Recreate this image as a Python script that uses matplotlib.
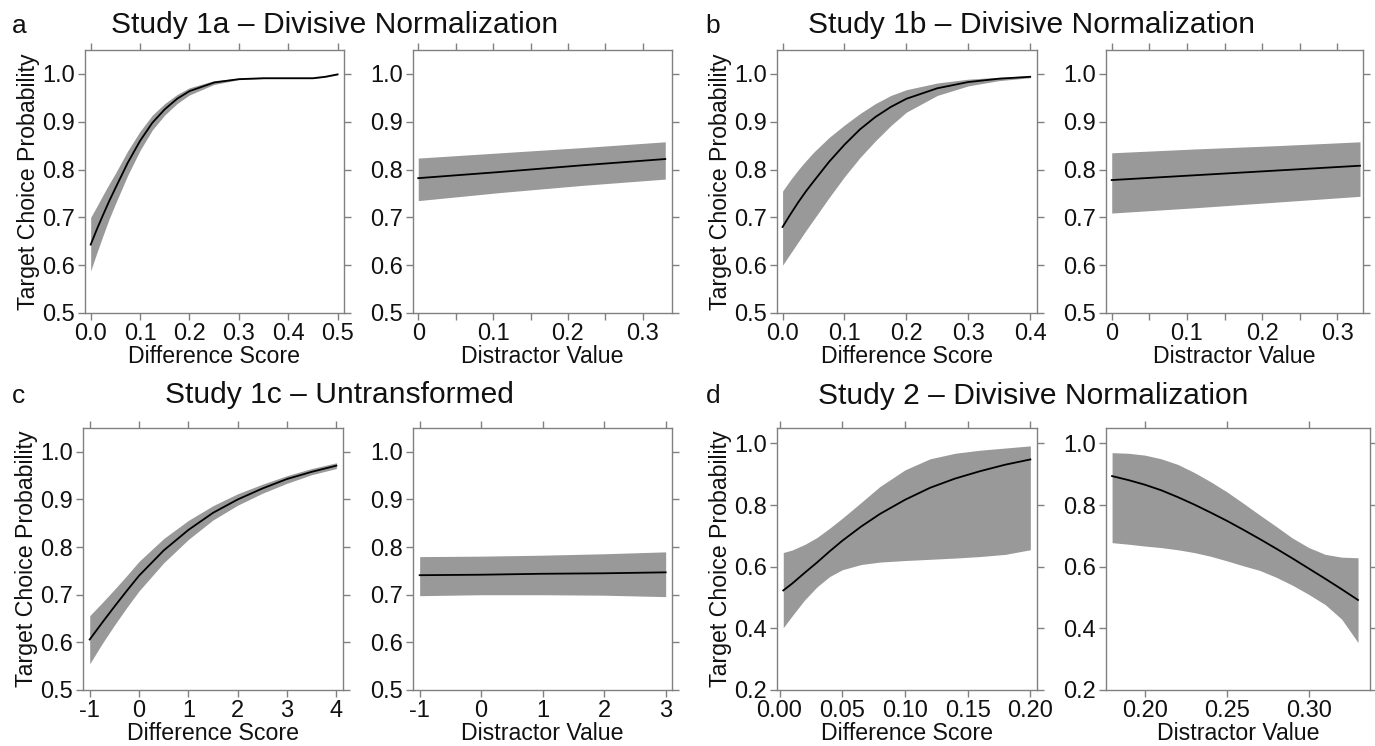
import numpy as np
import matplotlib.pyplot as plt
from matplotlib.ticker import FixedLocator, FixedFormatter

plt.rcParams['font.family'] = ['Liberation Sans', 'DejaVu Sans']
plt.rcParams['axes.unicode_minus'] = False

# ---- data ----
# Study 1a
s1a_diff_x = [0, 0.0125, 0.025, 0.0375, 0.05, 0.075, 0.1, 0.125, 0.15, 0.175, 0.2, 0.25, 0.3, 0.35, 0.4, 0.45, 0.475, 0.5]
s1a_diff_mean = [0.643, 0.675, 0.705, 0.734, 0.761, 0.814, 0.860, 0.898, 0.926, 0.948, 0.964, 0.982, 0.989, 0.991, 0.991, 0.991, 0.994, 0.999]
s1a_diff_lo = [0.588, 0.626, 0.662, 0.697, 0.728, 0.788, 0.840, 0.883, 0.914, 0.938, 0.956, 0.978, 0.988, 0.990, 0.990, 0.990, 0.993, 0.998]
s1a_diff_hi = [0.700, 0.723, 0.747, 0.770, 0.792, 0.839, 0.880, 0.914, 0.938, 0.957, 0.971, 0.986, 0.991, 0.992, 0.992, 0.992, 0.995, 1.0]

s1a_dist_x = [0, 0.11, 0.22, 0.33]
s1a_dist_mean = [0.782, 0.795, 0.809, 0.822]
s1a_dist_lo = [0.735, 0.752, 0.767, 0.780]
s1a_dist_hi = [0.824, 0.835, 0.846, 0.858]

# Study 1b
s1b_diff_x = [0, 0.0125, 0.025, 0.0375, 0.05, 0.075, 0.1, 0.125, 0.15, 0.175, 0.2, 0.25, 0.3, 0.35, 0.4]
s1b_diff_mean = [0.680, 0.706, 0.731, 0.754, 0.775, 0.816, 0.852, 0.884, 0.910, 0.931, 0.948, 0.970, 0.983, 0.990, 0.994]
s1b_diff_lo = [0.600, 0.624, 0.648, 0.672, 0.695, 0.741, 0.785, 0.825, 0.860, 0.892, 0.920, 0.955, 0.975, 0.986, 0.992]
s1b_diff_hi = [0.755, 0.778, 0.799, 0.818, 0.836, 0.867, 0.893, 0.917, 0.938, 0.955, 0.967, 0.981, 0.989, 0.993, 0.996]

s1b_dist_x = [0, 0.11, 0.22, 0.33]
s1b_dist_mean = [0.778, 0.788, 0.798, 0.808]
s1b_dist_lo = [0.709, 0.720, 0.732, 0.744]
s1b_dist_hi = [0.835, 0.843, 0.850, 0.858]

# Study 1c
s1c_diff_x = [-1, -0.75, -0.5, -0.25, 0, 0.5, 1, 1.5, 2, 2.5, 3, 3.5, 4]
s1c_diff_mean = [0.606, 0.641, 0.675, 0.708, 0.740, 0.793, 0.836, 0.872, 0.900, 0.923, 0.943, 0.958, 0.971]
s1c_diff_lo = [0.555, 0.597, 0.636, 0.673, 0.708, 0.767, 0.816, 0.857, 0.888, 0.913, 0.934, 0.952, 0.965]
s1c_diff_hi = [0.656, 0.683, 0.711, 0.740, 0.770, 0.818, 0.856, 0.887, 0.912, 0.932, 0.950, 0.965, 0.977]

s1c_dist_x = [-1, 0, 1, 2, 3]
s1c_dist_mean = [0.741, 0.742, 0.744, 0.745, 0.747]
s1c_dist_lo = [0.698, 0.700, 0.700, 0.699, 0.696]
s1c_dist_hi = [0.780, 0.781, 0.783, 0.786, 0.790]

# Study 2
s2_diff_x = [0.003, 0.01, 0.02, 0.03, 0.04, 0.05, 0.065, 0.08, 0.1, 0.12, 0.14, 0.16, 0.18, 0.2]
s2_diff_mean = [0.523, 0.545, 0.580, 0.614, 0.650, 0.684, 0.730, 0.771, 0.817, 0.856, 0.886, 0.910, 0.931, 0.948]
s2_diff_lo = [0.402, 0.440, 0.492, 0.535, 0.568, 0.590, 0.607, 0.615, 0.620, 0.624, 0.628, 0.633, 0.640, 0.655]
s2_diff_hi = [0.646, 0.654, 0.672, 0.695, 0.725, 0.757, 0.808, 0.860, 0.914, 0.950, 0.968, 0.978, 0.985, 0.992]

s2_dist_x = [0.18, 0.19, 0.2, 0.21, 0.22, 0.23, 0.24, 0.25, 0.26, 0.27, 0.28, 0.29, 0.3, 0.31, 0.32, 0.33]
s2_dist_mean = [0.894, 0.881, 0.866, 0.848, 0.826, 0.802, 0.776, 0.749, 0.720, 0.690, 0.659, 0.627, 0.594, 0.561, 0.527, 0.492]
s2_dist_lo = [0.678, 0.673, 0.667, 0.662, 0.655, 0.646, 0.634, 0.619, 0.603, 0.588, 0.566, 0.540, 0.510, 0.477, 0.430, 0.354]
s2_dist_hi = [0.970, 0.968, 0.962, 0.950, 0.932, 0.906, 0.876, 0.843, 0.806, 0.768, 0.731, 0.693, 0.662, 0.640, 0.631, 0.629]

titles = ["Study 1a \u2013 Divisive Normalization", "Study 1b \u2013 Divisive Normalization",
          "Study 1c \u2013 Untransformed", "Study 2 \u2013 Divisive Normalization"]
letters = ["a", "b", "c", "d"]

W, H = 1375, 746
FRAME = '#808080'
BAND = '#999999'
TXT = '#111111'


def panel(px_box, x, mean, lo, hi, xlim, ylim, xticks, xlabels, yticks, ylabels,
          xlabel, ylabel=None, minor=None):
    l, r, t, b = px_box
    ax = fig.add_axes([l / W, 1 - b / H, (r - l) / W, (b - t) / H])
    ax.fill_between(x, lo, hi, color=BAND, linewidth=0)
    ax.plot(x, mean, color='black', linewidth=1.3)
    ax.set_xlim(*xlim)
    ax.set_ylim(*ylim)
    ax.xaxis.set_major_locator(FixedLocator(xticks))
    ax.xaxis.set_major_formatter(FixedFormatter(xlabels))
    if minor is not None:
        ax.xaxis.set_minor_locator(FixedLocator(minor))
    ax.yaxis.set_major_locator(FixedLocator(yticks))
    ax.yaxis.set_major_formatter(FixedFormatter(ylabels))
    for s in ax.spines.values():
        s.set_color(FRAME)
        s.set_linewidth(1.0)
    ax.tick_params(which='both', direction='out', length=5, width=1.0, color=FRAME,
                   top=True, right=True, labeltop=False, labelright=False,
                   labelsize=17, labelcolor=TXT, pad=2)
    ax.set_xlabel(xlabel, fontsize=16.7, color=TXT, labelpad=0)
    if ylabel:
        ax.set_ylabel(ylabel, fontsize=16.7, color=TXT, labelpad=2)
    return ax


fig = plt.figure(figsize=(W / 100, H / 100), dpi=100)

y01 = [0.5, 0.6, 0.7, 0.8, 0.9, 1.0]
y01l = ["0.5", "0.6", "0.7", "0.8", "0.9", "1.0"]
ylab = "Target Choice Probability"
dist_min = [0.05, 0.15, 0.25]

# row 1
top1, bot1 = 50, 313
panel((85, 344, top1, bot1), s1a_diff_x, s1a_diff_mean, s1a_diff_lo, s1a_diff_hi,
      (-0.0115, 0.513), (0.5, 1.05), [0, 0.1, 0.2, 0.3, 0.4, 0.5],
      ["0.0", "0.1", "0.2", "0.3", "0.4", "0.5"], y01, y01l, "Difference Score", ylab)
panel((413, 672, top1, bot1), s1a_dist_x, s1a_dist_mean, s1a_dist_lo, s1a_dist_hi,
      (-0.007, 0.339), (0.5, 1.05), [0, 0.1, 0.2, 0.3], ["0", "0.1", "0.2", "0.3"],
      y01, y01l, "Distractor Value", minor=dist_min)
panel((777, 1037, top1, bot1), s1b_diff_x, s1b_diff_mean, s1b_diff_lo, s1b_diff_hi,
      (-0.009, 0.411), (0.5, 1.05), [0, 0.1, 0.2, 0.3, 0.4],
      ["0.0", "0.1", "0.2", "0.3", "0.4"], y01, y01l, "Difference Score", ylab)
panel((1106, 1363, top1, bot1), s1b_dist_x, s1b_dist_mean, s1b_dist_lo, s1b_dist_hi,
      (-0.0076, 0.334), (0.5, 1.05), [0, 0.1, 0.2, 0.3], ["0", "0.1", "0.2", "0.3"],
      y01, y01l, "Distractor Value", minor=dist_min)

# row 2
top2, bot2 = 428, 690
panel((83, 343, top2, bot2), s1c_diff_x, s1c_diff_mean, s1c_diff_lo, s1c_diff_hi,
      (-1.136, 4.134), (0.5, 1.05), [-1, 0, 1, 2, 3, 4],
      ["-1", "0", "1", "2", "3", "4"], y01, y01l, "Difference Score", ylab)
panel((413, 672, top2, bot2), s1c_dist_x, s1c_dist_mean, s1c_dist_lo, s1c_dist_hi,
      (-1.108, 3.103), (0.5, 1.05), [-1, 0, 1, 2, 3], ["-1", "0", "1", "2", "3"],
      y01, y01l, "Distractor Value")
y2 = [0.2, 0.4, 0.6, 0.8, 1.0]
y2l = ["0.2", "0.4", "0.6", "0.8", "1.0"]
panel((777, 1037, top2, bot2), s2_diff_x, s2_diff_mean, s2_diff_lo, s2_diff_hi,
      (-0.002, 0.2053), (0.2, 1.05), [0, 0.05, 0.1, 0.15, 0.2],
      ["0.00", "0.05", "0.10", "0.15", "0.20"], y2, y2l, "Difference Score", ylab)
panel((1106, 1370, top2, bot2), s2_dist_x, s2_dist_mean, s2_dist_lo, s2_dist_hi,
      (0.1763, 0.3373), (0.2, 1.05), [0.2, 0.25, 0.3], ["0.20", "0.25", "0.30"],
      y2, y2l, "Distractor Value")

# titles and panel letters
title_pos = [(335, 33), (1032, 33), (339, 403), (1033, 404)]
letter_pos = [(12, 33), (705, 33), (12, 403), (706, 403)]
for t, (tx, ty) in zip(titles, title_pos):
    fig.text(tx / W, 1 - ty / H, t, fontsize=21.6, ha='center', va='baseline', color=TXT)
for s, (lx, ly) in zip(letters, letter_pos):
    fig.text(lx / W, 1 - ly / H, s, fontsize=19, ha='left', va='baseline', color=TXT)

fig.savefig("out.png", dpi=100)
